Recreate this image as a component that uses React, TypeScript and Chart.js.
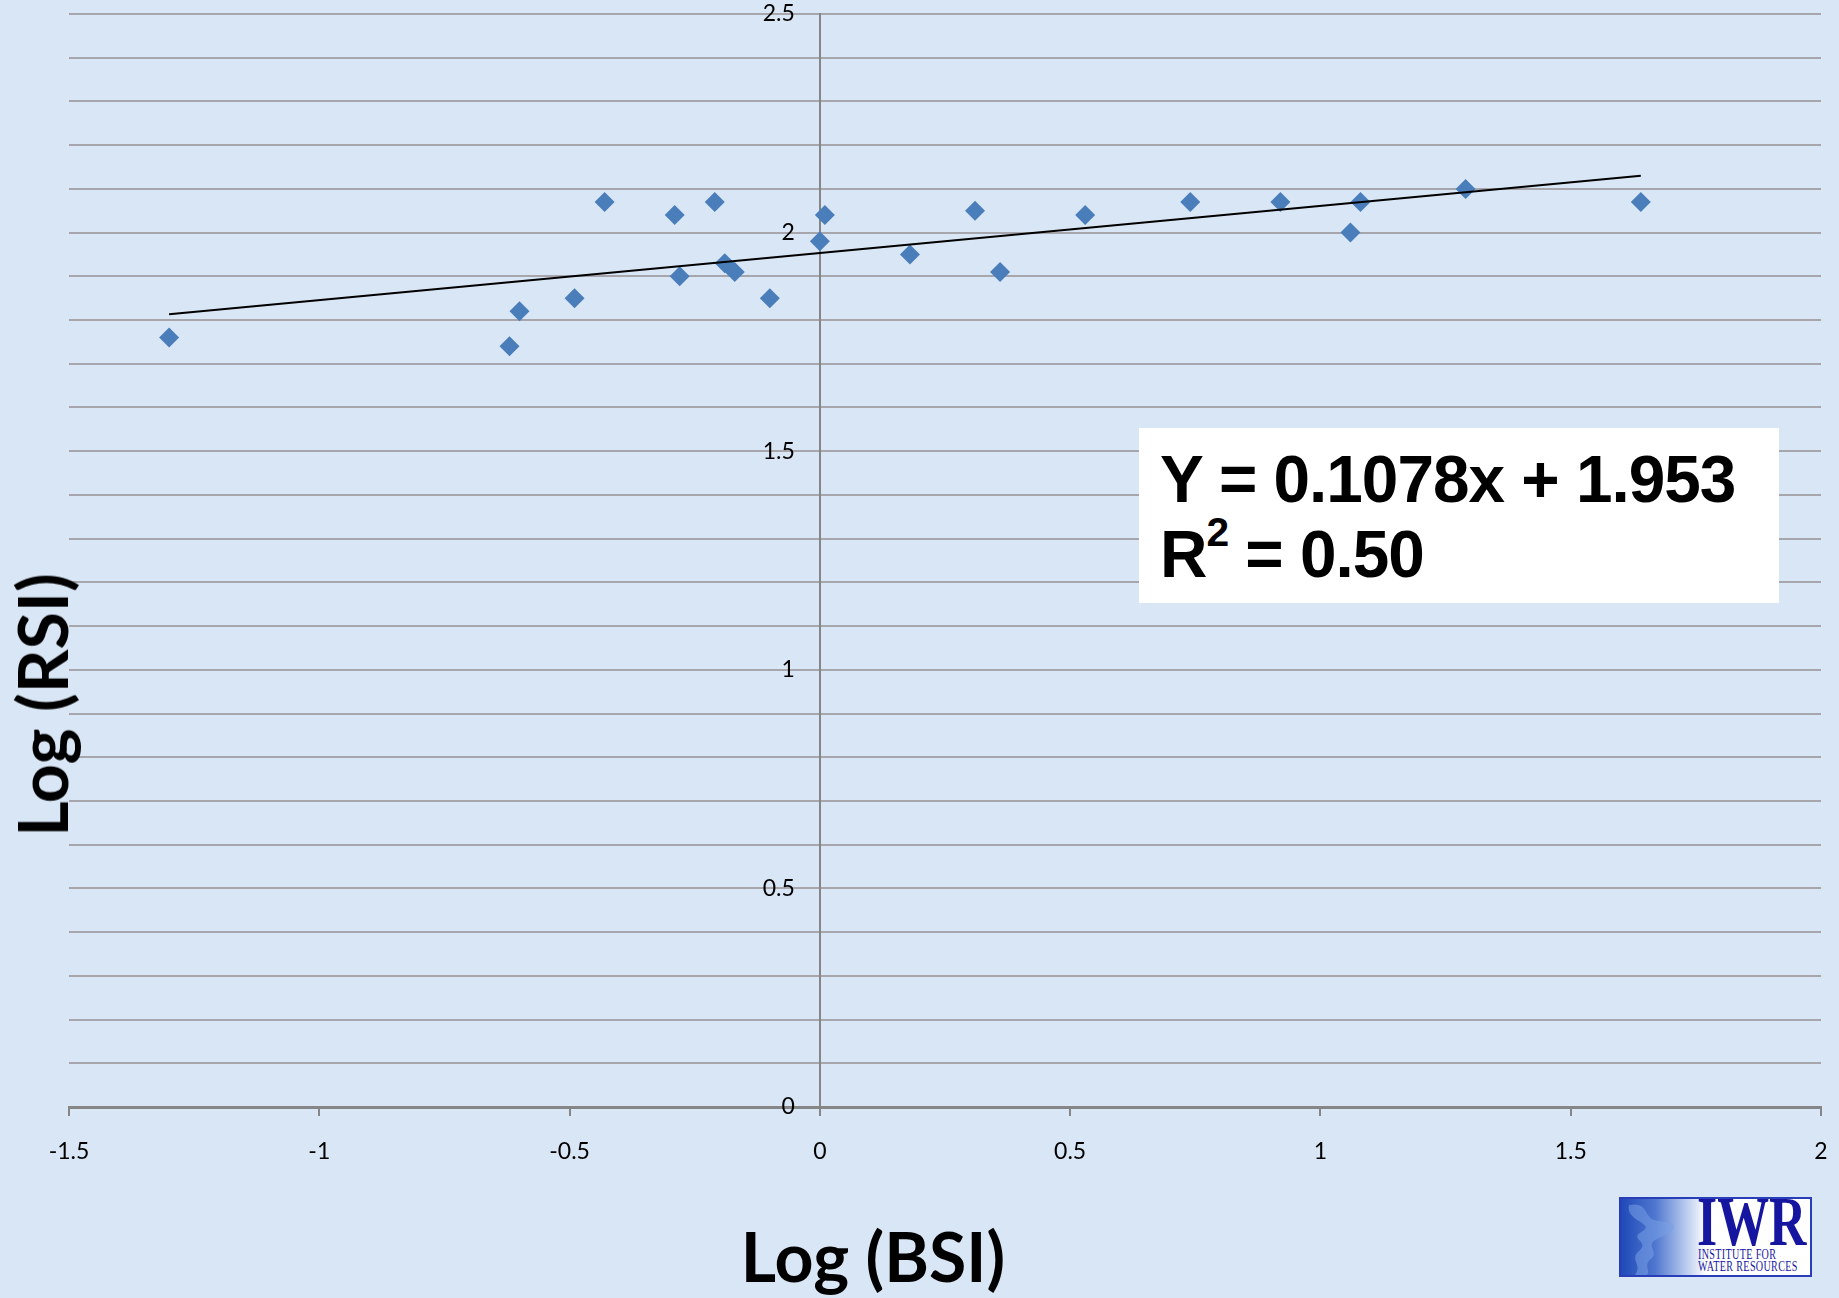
import React, { useEffect, useRef } from 'react';
import { Chart, registerables } from 'chart.js';

Chart.register(...registerables);

// Data
const bsiLog = [-1.3, -0.62, -0.6, -0.49, -0.43, -0.29, -0.28, -0.21, -0.19, -0.17, -0.1, 0.0, 0.01, 0.18, 0.31, 0.36, 0.53, 0.74, 0.92, 1.06, 1.08, 1.29, 1.64];
const rsiLog = [1.76, 1.74, 1.82, 1.85, 2.07, 2.04, 1.9, 2.07, 1.93, 1.91, 1.85, 1.98, 2.04, 1.95, 2.05, 1.91, 2.04, 2.07, 2.07, 2.0, 2.07, 2.1, 2.07];
const trendX = [-1.3, 1.64];
const trendY = [1.813, 2.13];
const xTickValues = [-1.5, -1, -0.5, 0, 0.5, 1, 1.5, 2];
const yLabelValues = [0, 0.5, 1, 1.5, 2, 2.5];
const equationText = 'Y = 0.1078x + 1.953';
const r2Value = '0.50';
const xTitle = 'Log (BSI)';
const yTitle = 'Log (RSI)';

const W = 1839;
const H = 1298;

const noPadV = (s: any) => {
  s.paddingTop = 0;
  s.paddingBottom = 0;
};
const noPadH = (s: any) => {
  s.paddingLeft = 0;
  s.paddingRight = 0;
};

export default function App() {
  const canvasRef = useRef<HTMLCanvasElement | null>(null);

  useEffect(() => {
    const canvas = canvasRef.current;
    if (!canvas) return;
    const points = bsiLog.map((x, i) => ({ x, y: rsiLog[i] }));
    const trend = trendX.map((x, i) => ({ x, y: trendY[i] }));
    const chart = new Chart(canvas, {
      type: 'scatter',
      data: {
        datasets: [
          {
            label: 'Trend',
            data: trend,
            showLine: true,
            borderColor: '#000000',
            borderWidth: 2,
            pointRadius: 0,
            order: 0,
            yAxisID: 'y',
          } as any,
          {
            label: 'Log (RSI)',
            data: points,
            pointStyle: 'rectRot',
            pointRadius: 10,
            backgroundColor: '#4a7ebb',
            borderColor: '#4a7ebb',
            borderWidth: 0,
            order: 1,
            yAxisID: 'y',
          } as any,
        ],
      },
      options: {
        responsive: false,
        animation: false,
        devicePixelRatio: 1,
        layout: { padding: { left: 69, right: 18, top: 14, bottom: 110.4 } },
        plugins: {
          legend: { display: false },
          tooltip: { enabled: false },
        },
        scales: {
          x: {
            type: 'linear',
            position: 'bottom',
            min: -1.5,
            max: 2,
            afterFit: noPadH,
            afterBuildTicks: (scale: any) => {
              scale.ticks = xTickValues.map((v) => ({ value: v }));
            },
            ticks: {
              autoSkip: false,
              maxRotation: 0,
              padding: 22,
              color: '#000000',
              font: { family: 'Lato', size: 23 },
              callback: (v: any) => String(Number(Number(v).toFixed(1))),
            },
            grid: {
              drawOnChartArea: false,
              drawTicks: true,
              tickLength: 9,
              color: '#868686',
              lineWidth: 2,
            },
            border: { display: true, color: '#868686', width: 3 },
          },
          y: {
            type: 'linear',
            position: { x: 0 } as any,
            min: 0,
            max: 2.5,
            afterFit: noPadV,
            ticks: {
              stepSize: 0.1,
              autoSkip: false,
              display: false,
            },
            grid: {
              drawOnChartArea: true,
              drawTicks: false,
              color: '#a6a6ac',
              lineWidth: 2,
            },
            border: { display: true, color: '#868686', width: 2 },
          },
          yLabels: {
            type: 'linear',
            axis: 'y',
            position: { x: -0.05 } as any,
            min: 0,
            max: 2.5,
            afterFit: noPadV,
            ticks: {
              stepSize: 0.1,
              autoSkip: false,
              color: '#000000',
              font: { family: 'Lato', size: 23 },
              callback: (v: any) => {
                const n = Number(v);
                const hit = yLabelValues.find((t) => Math.abs(t - n) < 1e-6);
                return hit === undefined ? '' : String(hit);
              },
            },
            grid: { display: false },
            border: { display: false },
          },
        },
      } as any,
    });
    return () => chart.destroy();
  }, []);

  return (
    <div
      style={{
        position: 'absolute',
        left: 0,
        top: 0,
        width: W,
        height: H,
        overflow: 'hidden',
        background: '#d9e6f5',
      }}
    >
      <canvas
        ref={canvasRef}
        width={W}
        height={H}
        style={{ position: 'absolute', left: 0, top: 0, width: W, height: H }}
      />
      {/* Y axis title */}
      <div
        style={{
          position: 'absolute',
          left: 42,
          top: 705,
          transform: 'translate(-50%, -50%) rotate(-90deg)',
          fontFamily: 'Lato, sans-serif',
          fontWeight: 700,
          fontSize: 68,
          lineHeight: '68px',
          whiteSpace: 'nowrap',
          color: '#000',
        }}
      >
        {yTitle}
      </div>
      {/* X axis title */}
      <div
        style={{
          position: 'absolute',
          left: 873,
          top: 1256,
          transform: 'translate(-50%, -50%)',
          fontFamily: 'Lato, sans-serif',
          fontWeight: 700,
          fontSize: 68,
          lineHeight: '68px',
          whiteSpace: 'nowrap',
          color: '#000',
        }}
      >
        {xTitle}
      </div>
      {/* Equation box */}
      <div
        style={{
          position: 'absolute',
          left: 1139,
          top: 428,
          width: 640,
          height: 175,
          background: '#ffffff',
        }}
      />
      <div
        style={{
          position: 'absolute',
          left: 1160,
          top: 441,
          fontFamily: '"Liberation Sans", Arial, sans-serif',
          fontWeight: 700,
          fontSize: 67,
          lineHeight: '75px',
          whiteSpace: 'nowrap',
          color: '#000',
          transform: 'scaleX(0.98)',
          transformOrigin: 'left top',
          letterSpacing: -1,
        }}
      >
        <div>{equationText}</div>
        <div>
          R
          <span style={{ fontSize: '62%', position: 'relative', top: '-0.75em' }}>2</span>
          {' = ' + r2Value}
        </div>
      </div>
      {/* IWR logo */}
      <div
        style={{
          position: 'absolute',
          left: 1619,
          top: 1197,
          width: 189,
          height: 76,
          border: '2px solid #2a3db8',
          background: 'linear-gradient(90deg, #1f49b8 0%, #4f77cf 18%, #a9bfea 32%, #ffffff 45%)',
          overflow: 'hidden',
        }}
      >
        <svg width={189} height={76} style={{ position: 'absolute', left: 0, top: 0 }}>
          <path
            d="M8 6 C 30 2, 20 20, 38 22 C 60 24, 55 32, 40 38 C 20 46, 40 52, 30 60 C 22 66, 30 72, 26 76 L 14 76 C 22 66, 8 60, 18 52 C 30 42, 6 40, 22 32 C 34 24, 4 22, 8 6 Z"
            fill="rgba(120,160,230,0.55)"
          />
        </svg>
        <div
          style={{
            position: 'absolute',
            left: 76,
            top: -12,
            fontFamily: '"Liberation Serif", serif',
            fontWeight: 700,
            fontSize: 70,
            lineHeight: '70px',
            color: '#1515a0',
            transform: 'scaleX(0.74)',
            transformOrigin: 'left top',
            whiteSpace: 'nowrap',
          }}
        >
          IWR
        </div>
        <div
          style={{
            position: 'absolute',
            left: 77,
            top: 50,
            fontFamily: '"Liberation Serif", serif',
            fontSize: 14,
            lineHeight: '12px',
            color: '#1515a0',
            transform: 'scaleX(0.72)',
            transformOrigin: 'left top',
            whiteSpace: 'nowrap',
            letterSpacing: 0.5,
          }}
        >
          <div>INSTITUTE FOR</div>
          <div>WATER RESOURCES</div>
        </div>
      </div>
    </div>
  );
}
